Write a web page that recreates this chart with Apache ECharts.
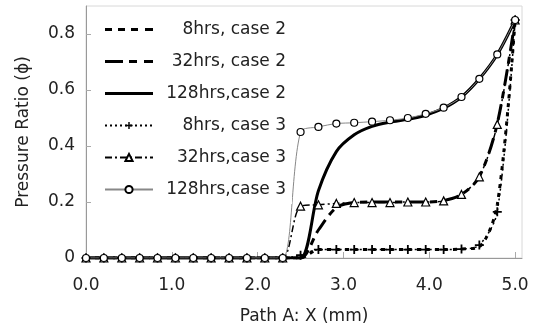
<!DOCTYPE html>
<html>
<head>
<meta charset="utf-8">
<script src="https://cdn.jsdelivr.net/npm/echarts@6/dist/echarts.min.js"></script>
<style>
  html, body { margin: 0; padding: 0; background: #fff; }
  #chart { width: 533px; height: 324px; }
</style>
</head>
<body>
<div id="chart"></div>
<script>
  // x positions along path A (mm)
  var pathX = [0, 0.208, 0.417, 0.625, 0.833, 1.042, 1.25, 1.458, 1.667, 1.875, 2.083, 2.292,
    2.5, 2.708, 2.917, 3.125, 3.333, 3.542, 3.75, 3.958, 4.167, 4.375, 4.583, 4.792, 5.0];

  // case 2 (no markers)
  var h8case2 = [0, 0, 0, 0, 0, 0, 0, 0, 0, 0, 0, 0,
    0, 0.03, 0.03, 0.03, 0.03, 0.03, 0.03, 0.03, 0.03, 0.032, 0.04, 0.19, 0.85];
  var h32case2 = [0, 0, 0, 0, 0, 0, 0, 0, 0, 0, 0, 0,
    0, 0.10, 0.18, 0.198, 0.2, 0.2, 0.2, 0.2, 0.205, 0.227, 0.29, 0.48, 0.85];
  var h128case2 = [0, 0, 0, 0, 0, 0, 0, 0, 0, 0, 0, 0,
    0, 0.24, 0.38, 0.44, 0.47, 0.485, 0.495, 0.51, 0.535, 0.575, 0.64, 0.727, 0.85];

  // case 3 (with markers)
  var h8case3 = [0, 0, 0, 0, 0, 0, 0, 0, 0, 0, 0, 0,
    0.01, 0.03, 0.03, 0.03, 0.03, 0.03, 0.03, 0.03, 0.03, 0.032, 0.046, 0.165, 0.85];
  var h32case3 = [0, 0, 0, 0, 0, 0, 0, 0, 0, 0, 0, 0,
    0.185, 0.19, 0.195, 0.198, 0.198, 0.198, 0.2, 0.2, 0.204, 0.227, 0.29, 0.477, 0.85];
  var h128case3 = [0, 0, 0, 0, 0, 0, 0, 0, 0, 0, 0, 0,
    0.45, 0.468, 0.48, 0.483, 0.487, 0.492, 0.5, 0.515, 0.537, 0.575, 0.64, 0.727, 0.85];

  var seriesNames = ['8hrs, case 2', '32hrs, case 2', '128hrs,case 2',
    '8hrs, case 3', '32hrs,case 3', '128hrs,case 3'];

  var xTicks = ['0.0', '1.0', '2.0', '3.0', '4.0', '5.0'];

  function pairs(vals) {
    return pathX.map(function (x, i) { return [x, vals[i]]; });
  }

  var FONT = 'DejaVu Sans';
  var plusPath = 'path://M4,0H6V4H10V6H6V10H4V6H0V4H4Z';

  // legend icons for the case 2 lines (no markers), drawn as dash patterns 48 wide
  var iconShortDash = 'path://M0,0H7V3H0Z M13,0H20V3H13Z M26,0H33V3H26Z M40,0H48V3H40Z';
  var iconLongDash = 'path://M0,0H18V3H0Z M24,0H32V3H24Z M39,0H48V3H39Z';
  var iconSolid = 'path://M0,0H48V3H0Z';

  var myChart = echarts.init(document.getElementById('chart'));

  myChart.setOption({
    animation: false,
    backgroundColor: '#fff',
    grid: {
      left: 86, right: 11, top: 6, bottom: 66,
      outerBoundsMode: 'none',
      show: true, borderColor: '#d8d8d8', borderWidth: 1
    },
    legend: {
      data: [
        { name: seriesNames[0], icon: iconShortDash },
        { name: seriesNames[1], icon: iconLongDash },
        { name: seriesNames[2], icon: iconSolid },
        seriesNames[3], seriesNames[4], seriesNames[5]
      ],
      orient: 'vertical',
      left: 96, top: 15,
      padding: [6, 6, 6, 8],
      itemWidth: 48, itemHeight: 9, itemGap: 15,
      backgroundColor: '#fff',
      formatter: function (name) { return '{t|' + name + '}'; },
      textStyle: {
        rich: {
          t: { width: 128, align: 'right', fontSize: 17, fontFamily: FONT, color: '#222' }
        }
      }
    },
    xAxis: {
      type: 'value',
      min: 0, max: 5.08, interval: 1,
      name: 'Path A: X (mm)',
      nameLocation: 'middle',
      nameGap: 50,
      nameTextStyle: { fontSize: 17, fontFamily: FONT, color: '#222' },
      axisLine: { show: true, lineStyle: { color: '#999' } },
      axisTick: { show: true, inside: true, length: 6, lineStyle: { color: '#aaa' } },
      splitLine: { show: false },
      axisLabel: {
        margin: 19, fontSize: 17, fontFamily: FONT, color: '#222',
        showMaxLabel: false,
        formatter: function (v) {
          var i = Math.round(v);
          return Math.abs(v - i) < 1e-6 ? xTicks[i] : '';
        }
      }
    },
    yAxis: {
      type: 'value',
      min: 0, max: 0.9, interval: 0.2,
      name: 'Pressure Ratio (\u03d5)',
      nameLocation: 'middle',
      nameGap: 54,
      nameTextStyle: { fontSize: 17, fontFamily: FONT, color: '#222' },
      axisLine: { show: true, lineStyle: { color: '#999' } },
      axisTick: { show: true, inside: true, length: 5, lineStyle: { color: '#aaa' } },
      splitLine: { show: false },
      axisLabel: {
        margin: 11, fontSize: 17, fontFamily: FONT, color: '#222',
        showMaxLabel: false,
        formatter: function (v) { return v === 0 ? '0' : v.toFixed(1); }
      }
    },
    series: [
      {
        name: seriesNames[0], type: 'line', smooth: 0.3, showSymbol: false,
        lineStyle: { color: '#000', width: 3, type: [4, 5] },
        itemStyle: { color: '#000' },
        data: pairs(h8case2)
      },
      {
        name: seriesNames[1], type: 'line', smooth: 0.3, showSymbol: false,
        lineStyle: { color: '#000', width: 3, type: [16, 6, 7, 6] },
        itemStyle: { color: '#000' },
        data: pairs(h32case2)
      },
      {
        name: seriesNames[2], type: 'line', smooth: 0.3, showSymbol: false,
        lineStyle: { color: '#000', width: 3 },
        itemStyle: { color: '#000' },
        data: pairs(h128case2)
      },
      {
        name: seriesNames[3], type: 'line', smooth: 0.3,
        symbol: plusPath, symbolSize: 9,
        lineStyle: { color: '#000', width: 1.5, type: [2, 3] },
        itemStyle: { color: '#000' },
        data: pairs(h8case3)
      },
      {
        name: seriesNames[4], type: 'line', smooth: 0.3,
        symbol: 'triangle', symbolSize: 8,
        lineStyle: { color: '#000', width: 1.5, type: [7, 3, 2, 3] },
        itemStyle: { color: '#fff', borderColor: '#000', borderWidth: 1.2 },
        data: pairs(h32case3)
      },
      {
        name: seriesNames[5], type: 'line', smooth: 0.3,
        symbol: 'circle', symbolSize: 7,
        lineStyle: { color: '#888', width: 1 },
        itemStyle: { color: '#fff', borderColor: '#000', borderWidth: 1.2 },
        data: pairs(h128case3)
      }
    ]
  });
</script>
</body>
</html>
